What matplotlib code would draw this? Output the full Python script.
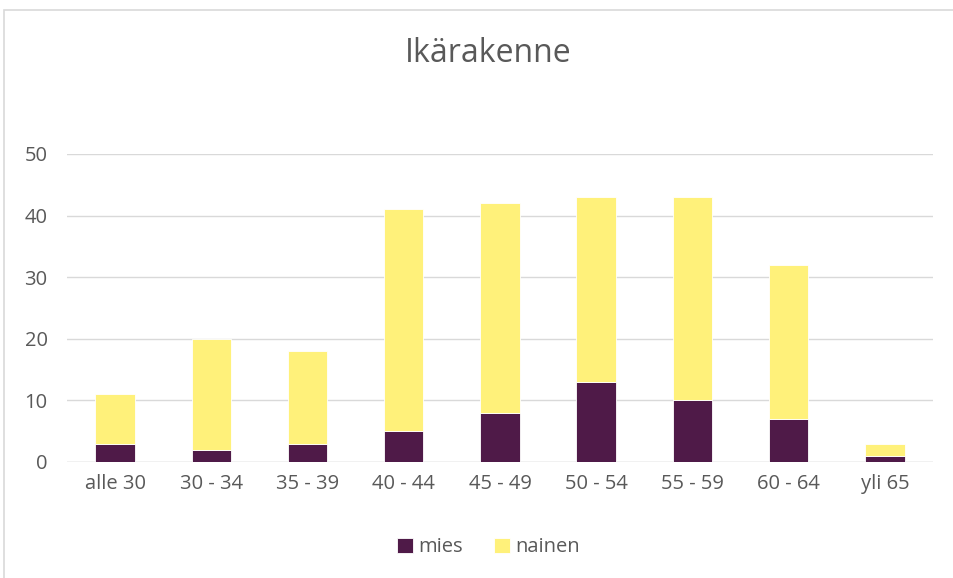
import numpy as np
import matplotlib.pyplot as plt
from matplotlib.patches import Rectangle

categories = ["alle 30", "30 - 34", "35 - 39", "40 - 44", "45 - 49",
              "50 - 54", "55 - 59", "60 - 64", "yli 65"]
mies = [3, 2, 3, 5, 8, 13, 10, 7, 1]
nainen = [8, 18, 15, 36, 34, 30, 33, 25, 2]

plt.rcParams['font.family'] = ['Open Sans', 'DejaVu Sans']
text_col = "#595959"

fig = plt.figure(figsize=(9.54, 5.78), dpi=100)
ax = fig.add_axes([0.0702, 0.2007, 0.9078, 0.5329])

x = np.arange(len(categories))
ax.bar(x, mies, width=0.41, color="#4F1A48", edgecolor="white", linewidth=0.6,
       label="mies", zorder=3)
ax.bar(x, nainen, width=0.41, bottom=mies, color="#FFF17A", edgecolor="white",
       linewidth=0.6, label="nainen", zorder=3)

ax.set_xlim(-0.5, len(categories) - 0.5)
ax.set_ylim(0, 50)
ax.set_yticks(range(0, 51, 10))
ax.set_xticks(x)
ax.set_xticklabels(categories)
ax.tick_params(axis="both", length=0, labelsize=14.5, colors=text_col, pad=9)
ax.tick_params(axis="y", pad=14)
ax.grid(axis="y", color="#D9D9D9", linewidth=1, zorder=0)
for s in ax.spines.values():
    s.set_visible(False)
ax.axhline(0, color="#D9D9D9", linewidth=1, zorder=1)

fig.text(0.512, 0.908, "Ikärakenne", ha="center", va="center",
         fontsize=23, color=text_col)

fig.legend(loc="center", bbox_to_anchor=(0.512, 0.053), ncol=2, frameon=False,
           fontsize=14.5, labelcolor=text_col, handlelength=0.8, handleheight=0.8,
           handletextpad=0.3, columnspacing=1.5)

fig.patches.append(Rectangle((0.004, -0.01), 1.0, 0.993, transform=fig.transFigure,
                             fill=False, edgecolor="#D9D9D9", linewidth=1.2))

fig.savefig("out.png", dpi=100)
